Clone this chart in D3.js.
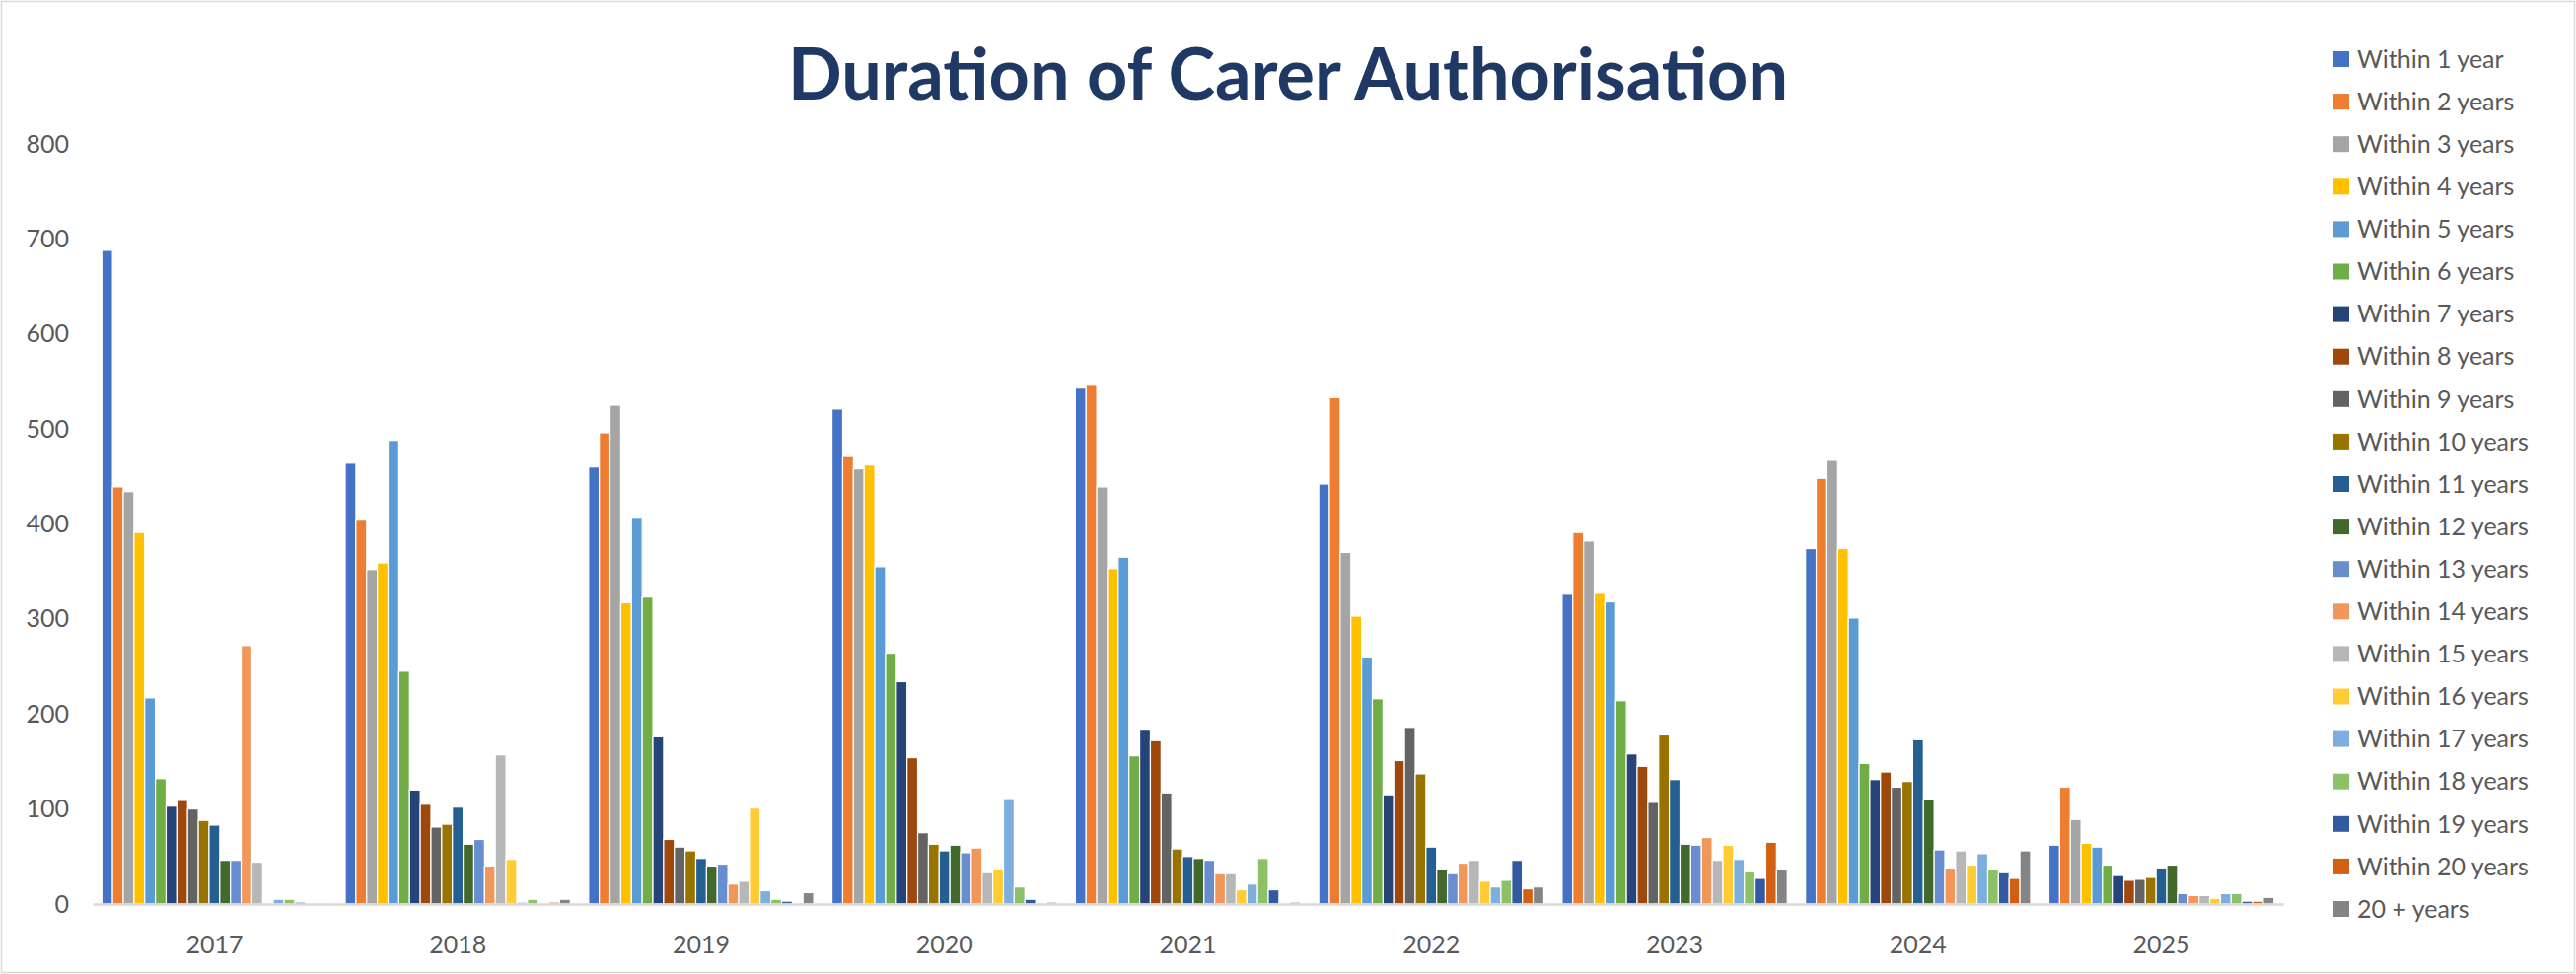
<!DOCTYPE html>
<html>
<head>
<meta charset="utf-8">
<title>Duration of Carer Authorisation</title>
<style>
    html, body { margin: 0; padding: 0; background: #fff; }
    svg { display: block; font-family: Lato, "Open Sans", sans-serif; }
</style>
</head>
<body>
<svg></svg>
<script src="https://cdnjs.cloudflare.com/ajax/libs/d3/7.8.5/d3.min.js"></script>
<script>
    const years = ["2017", "2018", "2019", "2020", "2021", "2022", "2023", "2024", "2025"];
    const seriesNames = ["Within 1 year", "Within 2 years", "Within 3 years", "Within 4 years",
        "Within 5 years", "Within 6 years", "Within 7 years", "Within 8 years", "Within 9 years",
        "Within 10 years", "Within 11 years", "Within 12 years", "Within 13 years", "Within 14 years",
        "Within 15 years", "Within 16 years", "Within 17 years", "Within 18 years", "Within 19 years",
        "Within 20 years", "20 + years"];
    const colors = ["#4472C4", "#ED7D31", "#A5A5A5", "#FFC000", "#5B9BD5", "#70AD47", "#264478",
        "#9E480E", "#636363", "#997300", "#255E91", "#43682B", "#698ED0", "#F1975A", "#B7B7B7",
        "#FFCD33", "#7CAFDD", "#8CC168", "#335AA1", "#D26012", "#848484"];
    const yTicks = [0, 100, 200, 300, 400, 500, 600, 700, 800];

    // one array per year, in series order
    const v2017 = [688, 439, 434, 391, 217, 132, 103, 109, 100, 88, 83, 46, 46, 272, 44, 0, 5, 5, 2, 0, 0];
    const v2018 = [464, 405, 352, 359, 488, 245, 120, 105, 81, 84, 102, 63, 68, 40, 157, 47, 2, 5, 0, 2, 5];
    const v2019 = [460, 496, 525, 317, 407, 323, 176, 68, 60, 56, 48, 40, 42, 21, 24, 101, 14, 5, 3, 0, 12];
    const v2020 = [521, 471, 458, 462, 355, 264, 234, 154, 75, 63, 56, 62, 54, 59, 33, 37, 111, 18, 5, 0, 2];
    const v2021 = [543, 546, 439, 353, 365, 156, 183, 172, 117, 58, 50, 48, 46, 32, 32, 15, 21, 48, 15, 0, 2];
    const v2022 = [442, 533, 370, 303, 260, 216, 115, 151, 186, 137, 60, 36, 32, 43, 46, 24, 18, 25, 46, 16, 18];
    const v2023 = [326, 391, 382, 327, 318, 214, 158, 145, 107, 178, 131, 63, 62, 70, 46, 62, 47, 34, 27, 65, 36];
    const v2024 = [374, 448, 467, 374, 301, 148, 131, 139, 123, 129, 173, 110, 57, 38, 56, 41, 53, 36, 33, 27, 56];
    const v2025 = [62, 123, 89, 64, 60, 41, 30, 25, 26, 28, 38, 41, 11, 9, 9, 6, 11, 11, 3, 3, 7];

    const byYear = [v2017, v2018, v2019, v2020, v2021, v2022, v2023, v2024, v2025];
    const table = years.map((yr, i) => ({
        year: yr,
        values: seriesNames.map((s, j) => ({ series: s, value: byYear[i][j], color: colors[j] }))
    }));

    const width = 2612, height = 988;
    const margin = { top: 146, left: 94, right: 297, bottom: 71 };

    const svg = d3.select("svg").attr("width", width).attr("height", height);

    svg.append("rect")
        .attr("x", 1.5).attr("y", 1.5)
        .attr("width", width - 3).attr("height", height - 3)
        .attr("fill", "#fff").attr("stroke", "#d9d9d9").attr("stroke-width", 1.5);

    let x0 = d3.scaleBand()
        .domain(years)
        .range([margin.left, width - margin.right])
        .paddingInner(0.075)
        .paddingOuter(0.0375);
    let x1 = d3.scaleBand()
        .domain(seriesNames)
        .range([0, x0.bandwidth()]);
    let yScale = d3.scaleLinear()
        .domain([0, 800])
        .range([height - margin.bottom, margin.top]);

    // title
    svg.append("text")
        .attr("x", width / 2)
        .attr("y", 101)
        .attr("text-anchor", "middle")
        .attr("font-size", 72)
        .attr("font-weight", 700)
        .attr("fill", "#203864")
        .text("Duration of Carer Authorisation");

    // y axis labels only
    let yAxis = d3.axisLeft(yScale).tickValues(yTicks).tickSize(0).tickPadding(0);
    let gy = svg.append("g")
        .attr("transform", "translate(" + [70, 0] + ")")
        .call(yAxis);
    gy.select(".domain").remove();
    gy.selectAll("text").attr("font-size", 25).attr("fill", "#595959").attr("font-family", "Lato, sans-serif");

    // bars
    let groups = svg.append("g").selectAll("g")
        .data(table)
        .enter().append("g")
        .attr("transform", d => "translate(" + [x0(d.year), 0] + ")");
    groups.selectAll("rect")
        .data(d => d.values)
        .enter().append("rect")
        .attr("x", d => x1(d.series))
        .attr("y", d => yScale(d.value))
        .attr("width", x1.bandwidth())
        .attr("height", d => yScale(0) - yScale(d.value))
        .attr("fill", d => d.color)
        .attr("stroke", "#fff")
        .attr("stroke-width", 1.2);

    // x axis
    let xAxis = d3.axisBottom(x0).tickSize(0).tickPadding(32);
    let gx = svg.append("g")
        .attr("transform", "translate(" + [0, yScale(0)] + ")")
        .call(xAxis);
    gx.select(".domain").attr("stroke", "#d9d9d9").attr("stroke-width", 2.5);
    gx.selectAll("text").attr("font-size", 25).attr("fill", "#595959").attr("font-family", "Lato, sans-serif");

    // legend
    let legend = svg.append("g").attr("transform", "translate(2366, 60)");
    let items = legend.selectAll("g")
        .data(seriesNames)
        .enter().append("g")
        .attr("transform", (d, i) => "translate(" + [0, i * 43.1] + ")");
    items.append("rect")
        .attr("x", 0).attr("y", -8)
        .attr("width", 16).attr("height", 16)
        .attr("fill", (d, i) => colors[i]);
    items.append("text")
        .attr("x", 24)
        .attr("dy", "0.35em")
        .attr("font-size", 25)
        .attr("fill", "#595959")
        .text(d => d);
</script>
</body>
</html>
